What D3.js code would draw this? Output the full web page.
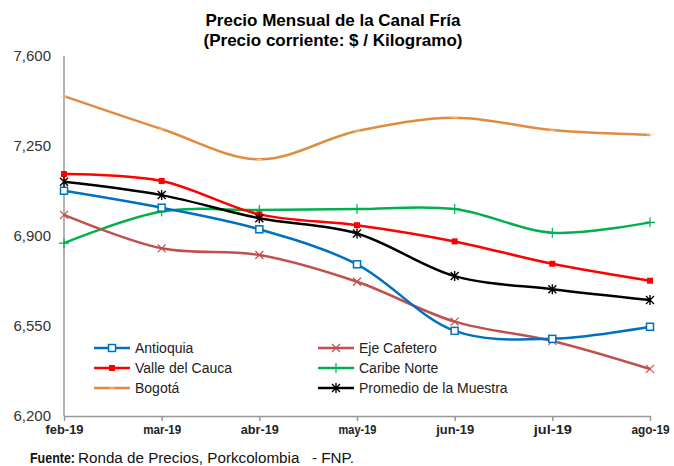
<!DOCTYPE html>
<html>
<head>
<meta charset="utf-8">
<script src="https://cdn.jsdelivr.net/npm/d3@7"></script>
<style>
  body { margin: 0; background: #fff; }
  svg { display: block; }
  text { white-space: pre; }
  .narrow { font-family: "Liberation Sans Narrow", "Arial Narrow", "Liberation Sans", Arial, sans-serif; }
  .reg { font-family: "Liberation Sans", Arial, sans-serif; }
</style>
</head>
<body>
<div id="chart"></div>
<script>
// months on the x axis
var months = ['feb-19', 'mar-19', 'abr-19', 'may-19', 'jun-19', 'jul-19', 'ago-19'];
var yTicks = [6200, 6550, 6900, 7250, 7600];

// series values ($ / kg)
var antioquia   = [7076, 7010, 6926, 6790, 6531, 6500, 6547];
var ejeCafetero = [6982, 6852, 6826, 6722, 6567, 6492, 6383];
var valle       = [7141, 7114, 6984, 6942, 6879, 6792, 6726];
var caribe      = [6872, 6995, 7001, 7005, 7005, 6913, 6953];
var bogota      = [7444, 7316, 7198, 7308, 7360, 7312, 7293];
var promedio    = [7111, 7059, 6969, 6910, 6744, 6693, 6651];

var series = [
  {name: 'Antioquia',             values: antioquia,   color: '#0070C0', marker: 'square'},
  {name: 'Eje Cafetero',          values: ejeCafetero, color: '#C0504D', marker: 'x'},
  {name: 'Valle del Cauca',       values: valle,       color: '#FF0000', marker: 'fsquare'},
  {name: 'Caribe Norte',          values: caribe,      color: '#00B050', marker: 'plus'},
  {name: 'Bogotá',                values: bogota,      color: '#E08B3E', marker: 'dash'},
  {name: 'Promedio de la Muestra', values: promedio,   color: '#000000', marker: 'star'}
];

var W = 674, H = 466;
var svg = d3.select('#chart').append('svg').attr('width', W).attr('height', H);

var x = d3.scalePoint().domain(months).range([64, 650]);
var y = d3.scaleLinear().domain([6200, 7600]).range([416, 56]);

// title (squeezed to mimic the narrow face)
var title = svg.append('text').attr('class', 'narrow')
  .attr('text-anchor', 'middle').attr('font-weight', 'bold').attr('font-size', 17).attr('fill', '#000');
title.append('tspan').attr('x', 333).attr('y', 26)
  .attr('textLength', 255).attr('lengthAdjust', 'spacingAndGlyphs')
  .text('Precio Mensual de la Canal Fría');
title.append('tspan').attr('x', 333).attr('y', 46)
  .attr('textLength', 259).attr('lengthAdjust', 'spacingAndGlyphs')
  .text('(Precio corriente: $ / Kilogramo)');

// axes
svg.append('line').attr('x1', 64).attr('x2', 64).attr('y1', y(7600)).attr('y2', y(6200))
  .attr('stroke', '#999').attr('stroke-width', 1.5);

var xAxis = svg.append('g').attr('transform', 'translate(0,' + y(6200) + ')')
  .call(d3.axisBottom(x).tickSize(5).tickSizeOuter(0));
xAxis.select('.domain').attr('stroke', '#999').attr('stroke-width', 1.5);
xAxis.selectAll('.tick line').attr('stroke', '#999').attr('stroke-width', 1.5);
xAxis.selectAll('.tick text').attr('class', 'narrow').attr('font-weight', 'bold')
  .attr('font-size', 13).attr('fill', '#222').attr('dy', '0.8em')
  .attr('textLength', 38).attr('lengthAdjust', 'spacingAndGlyphs');

svg.append('g').selectAll('text').data(yTicks).join('text')
  .attr('class', 'reg').attr('x', 51).attr('y', function(d) { return y(d); })
  .attr('dy', '0.35em').attr('text-anchor', 'end').attr('font-size', 15).attr('fill', '#333')
  .text(d3.format(','));

// markers
function drawMarker(g, type, color) {
  if (type === 'square') {
    g.append('rect').attr('x', -3.5).attr('y', -3.5).attr('width', 7).attr('height', 7)
      .attr('fill', '#fff').attr('stroke', color).attr('stroke-width', 1.5);
  } else if (type === 'fsquare') {
    g.append('rect').attr('x', -3).attr('y', -3).attr('width', 6).attr('height', 6).attr('fill', color);
  } else if (type === 'x') {
    g.append('path').attr('d', 'M-4,-4L4,4M-4,4L4,-4').attr('stroke', color).attr('stroke-width', 1.2);
  } else if (type === 'plus') {
    g.append('path').attr('d', 'M0,-5L0,5M-5,0L5,0').attr('stroke', color).attr('stroke-width', 1.2);
  } else if (type === 'dash') {
    g.append('path').attr('d', 'M-3,0L3,0').attr('stroke', '#f3c9a0').attr('stroke-width', 1);
  } else if (type === 'star') {
    g.append('path').attr('d', 'M-4,-4L4,4M-4,4L4,-4M0,-5L0,5').attr('stroke', color).attr('stroke-width', 1.4);
  }
}

var line = d3.line()
  .x(function(d, i) { return x(months[i]); })
  .y(function(d) { return y(d); })
  .curve(d3.curveCatmullRom.alpha(0.5));

var drawOrder = [4, 3, 1, 0, 2, 5];
drawOrder.forEach(function(k) {
  var s = series[k];
  svg.append('path').attr('d', line(s.values)).attr('fill', 'none')
    .attr('stroke', s.color).attr('stroke-width', 2.5);
  s.values.forEach(function(v, i) {
    var g = svg.append('g').attr('transform', 'translate(' + x(months[i]) + ',' + y(v) + ')');
    drawMarker(g, s.marker, s.color);
  });
});

// legend
var legend = svg.append('g');
series.forEach(function(s, i) {
  var col = i % 2, row = Math.floor(i / 2);
  var lx = col === 0 ? 94 : 318;
  var ly = 348 + row * 20;
  var g = legend.append('g').attr('transform', 'translate(' + lx + ',' + ly + ')');
  g.append('line').attr('x1', 0).attr('x2', 36).attr('stroke', s.color).attr('stroke-width', 2.5);
  drawMarker(g.append('g').attr('transform', 'translate(18,0)'), s.marker, s.color);
  g.append('text').attr('class', 'reg').attr('x', 41).attr('dy', '0.35em')
    .attr('font-size', 14).attr('fill', '#222').text(s.name);
});

// source
var src = svg.append('text').attr('class', 'narrow').attr('y', 463)
  .attr('font-size', 14).attr('fill', '#111');
src.append('tspan').attr('x', 30).attr('font-weight', 'bold')
  .attr('textLength', 45).attr('lengthAdjust', 'spacingAndGlyphs').text('Fuente:');
src.append('tspan').attr('x', 78)
  .attr('textLength', 276).attr('lengthAdjust', 'spacingAndGlyphs')
  .text('Ronda de Precios, Porkcolombia   - FNP.');
</script>
</body>
</html>
